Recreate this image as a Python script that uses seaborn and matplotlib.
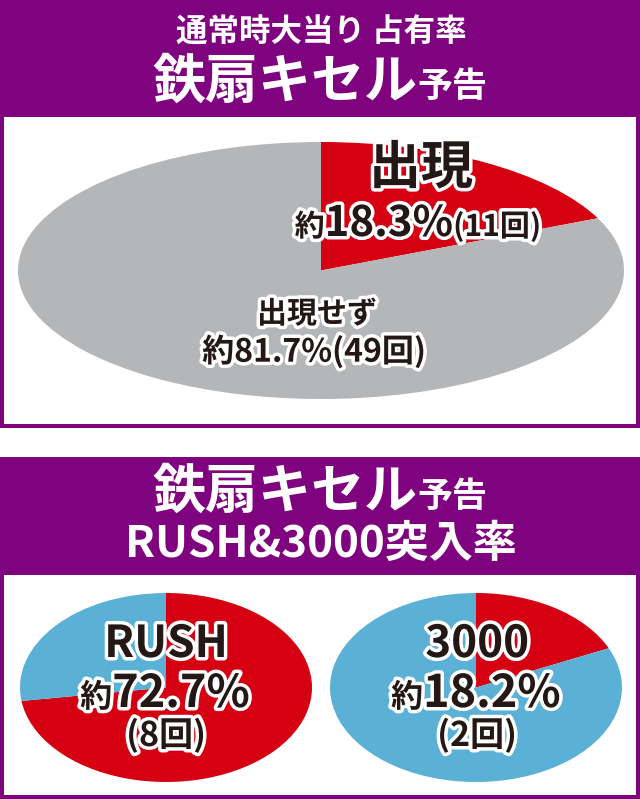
import matplotlib
matplotlib.use("Agg")
import matplotlib.pyplot as plt
import matplotlib.patheffects as pe
from matplotlib.patches import Rectangle
from matplotlib.offsetbox import TextArea, HPacker, AnnotationBbox
import seaborn as sns

# === DONNÉES ===
top_labels = ["出現", "出現せず"]
top_counts = [11, 49]
top_pct = [18.3, 81.7]

rush_counts = [8, 3]      # RUSH / non
rush_pct = 72.7
k3000_counts = [2, 9]     # 3000 / non
k3000_pct = 18.2

# === STYLE ===
sns.set_theme(style="white")
plt.rcParams["font.family"] = ["Noto Sans CJK JP", "DejaVu Sans"]
plt.rcParams["font.weight"] = "bold"

PURPLE = "#7f037f"
RED = "#d50012"
GRAY = "#b5b6b8"
BLUE = "#5ab1d5"
INK = "#231815"
W, H = 640, 799
WT = "bold"

outline = [pe.withStroke(linewidth=5, foreground="white")]


def px(s):
    return s * 0.72


fig = plt.figure(figsize=(W / 100, H / 100), dpi=100)

# fond : cadres violets
bg = fig.add_axes([0, 0, 1, 1], zorder=0)
bg.set_xlim(0, W)
bg.set_ylim(H, 0)
bg.axis("off")
bg.add_patch(Rectangle((0, 0), W, 428, color=PURPLE, lw=0))
bg.add_patch(Rectangle((4, 117), W - 8, 307, color="white", lw=0))
bg.add_patch(Rectangle((0, 457), W, H - 457, color=PURPLE, lw=0))
bg.add_patch(Rectangle((4, 575), W - 8, H - 4 - 575, color="white", lw=0))


def pie_axes(x0, x1, y0, y1, values, colors):
    ax = fig.add_axes([x0 / W, (H - y1) / H, (x1 - x0) / W, (y1 - y0) / H], zorder=1)
    ax.pie(values, colors=colors, startangle=90, counterclock=False,
           radius=1, wedgeprops=dict(linewidth=0))
    ax.set_aspect("auto")
    ax.set_xlim(-1, 1)
    ax.set_ylim(-1, 1)
    ax.axis("off")
    return ax


pie_axes(18, 624, 142, 399, top_counts, [RED, GRAY])
pie_axes(20, 312, 593, 782, rush_counts, [RED, BLUE])
pie_axes(330, 622, 593, 782, k3000_counts, [RED, BLUE])

# calque texte
tx = fig.add_axes([0, 0, 1, 1], zorder=5)
tx.set_xlim(0, W)
tx.set_ylim(H, 0)
tx.axis("off")
tx.patch.set_alpha(0)


def packed(parts, x, y, color=INK, effects=outline):
    areas = []
    for s, size in parts:
        props = dict(fontsize=px(size), color=color, fontweight=WT)
        if effects:
            props["path_effects"] = effects
        areas.append(TextArea(s, textprops=props))
    box = HPacker(children=areas, align="baseline", pad=0, sep=0)
    ab = AnnotationBbox(box, (x, y), xycoords="data", frameon=False,
                        box_alignment=(0.5, 0.5), pad=0)
    tx.add_artist(ab)


# en-têtes
tx.text(321, 33, "通常時大当り 占有率", ha="center", va="center",
        fontsize=px(31.5), color="white", fontweight=WT)
packed([("鉄扇キセル", 53), ("予告", 35)], 320, 82, color="white", effects=None)
packed([("鉄扇キセル", 53), ("予告", 35)], 320, 492, color="white", effects=None)
tx.text(321, 544, "RUSH&3000突入率", ha="center", va="center",
        fontsize=px(44), color="white", fontweight=WT)

# étiquettes du camembert du haut
tx.text(421, 168, top_labels[0], ha="center", va="center", fontsize=px(52),
        color=INK, fontweight=WT, path_effects=outline)
packed([("約", 30), (f"{top_pct[0]}%", 42), (f"({top_counts[0]}回)", 30)], 418, 224)
tx.text(317, 314, top_labels[1], ha="center", va="center", fontsize=px(30),
        color=INK, fontweight=WT, path_effects=outline)
tx.text(314, 352, f"約{top_pct[1]}%({top_counts[1]}回)", ha="center", va="center",
        fontsize=px(32), color=INK, fontweight=WT, path_effects=outline)

# étiquettes RUSH / 3000
for cx, name, pct, n in [(166, "RUSH", rush_pct, rush_counts[0]),
                         (477, "3000", k3000_pct, k3000_counts[0])]:
    tx.text(cx, 644, name, ha="center", va="center", fontsize=px(44),
            color=INK, fontweight=WT, path_effects=outline)
    packed([("約", 32), (f"{pct}%", 45)], cx - 1, 694)
    tx.text(cx, 735, f"({n}回)", ha="center", va="center", fontsize=px(34),
            color=INK, fontweight=WT, path_effects=outline)

fig.savefig("out.png", dpi=100)
